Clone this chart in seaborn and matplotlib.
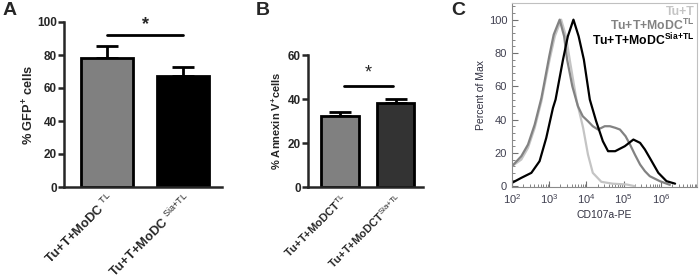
import matplotlib
matplotlib.use('Agg')
import matplotlib.pyplot as plt
from matplotlib.ticker import AutoMinorLocator, LogLocator, NullFormatter
import seaborn as sns
import pandas as pd

# ---- data ----
# A: % GFP+ cells
groups_a = ['Tu+T+MoDC $^{\\mathrm{TL}}$', 'Tu+T+MoDC $^{\\mathrm{Sia{+}TL}}$']
gfp_mean = [78, 67]
gfp_err = [7.5, 5.5]

# B: % Annexin V+ cells
groups_b = ['Tu+T+MoDCT$^{\\mathrm{TL}}$', 'Tu+T+MoDCT$^{\\mathrm{Sia{+}TL}}$']
annexin_mean = [32.3, 38.0]
annexin_err = [2.0, 1.8]

# C: CD107a-PE histograms (percent of max)
cd_tut = [100, 178, 269, 407, 617, 708, 1023, 1413, 2089, 2818, 3548, 5370, 8128, 10965, 14791, 25119, 50119, 120226, 199526]
pct_tut = [12, 16, 23, 35, 51, 58, 76, 90, 100, 90, 76, 52, 35, 19, 8, 2.6, 1.5, 1, 0]

cd_tl = [100, 178, 269, 407, 617, 708, 1000, 1318, 1905, 2512, 3020, 4169, 5888, 7943, 10965, 14791, 20417, 30903, 42658, 60256, 79433, 112202, 147911, 199526, 275423, 371535, 501187, 933254, 1737801]
pct_tl = [12, 18, 25, 37, 53, 60, 78, 91, 100, 90, 76, 60, 48, 42, 39, 36, 34, 36, 36, 35, 34, 30, 25, 19, 13, 9, 6, 3, 0.8]

cd_sia = [100, 178, 331, 550, 832, 1259, 1479, 2344, 3162, 4467, 6166, 8511, 12303, 18197, 27542, 38019, 58884, 107152, 181970, 275423, 371535, 501187, 851138, 1412538, 2398833]
pct_sia = [2, 5, 8, 15, 29, 47, 52, 76, 90, 100, 90, 76, 52, 39, 27, 21, 21, 24, 28, 26, 22, 17, 8, 3, 1.5]

hist_names = ['Tu+T', 'Tu+T+MoDC$^{\\mathbf{TL}}$', 'Tu+T+MoDC$^{\\mathbf{Sia{+}TL}}$']
hist_colors = ['#c4c4c4', '#828282', '#000000']

# ---- style ----
sns.set_style('ticks')
plt.rcParams['font.family'] = ['Liberation Sans', 'DejaVu Sans']
plt.rcParams['mathtext.fontset'] = 'custom'
plt.rcParams['mathtext.rm'] = 'Liberation Sans'
plt.rcParams['mathtext.bf'] = 'Liberation Sans:bold'
plt.rcParams['mathtext.it'] = 'Liberation Sans:italic'

fig = plt.figure(figsize=(7, 2.8), dpi=100)


def bar_panel(ax, groups, means, errs, colors, ymax, step, ylabel, xfs, yfs, lfs, lx):
    df = pd.DataFrame({'group': groups, 'value': means})
    sns.barplot(data=df, x='group', y='value', hue='group', palette=colors,
                edgecolor='black', linewidth=2, width=0.68, errorbar=None,
                legend=False, ax=ax, zorder=2)
    ax.errorbar([0, 1], means, yerr=[[0, 0], errs], fmt='none', ecolor='black',
                elinewidth=2, capsize=8, capthick=2, zorder=1)
    ax.set_ylim(0, ymax)
    ax.set_yticks(range(0, ymax + 1, step))
    sns.despine(ax=ax)
    for s in ['left', 'bottom']:
        ax.spines[s].set_linewidth(1.8)
    ax.tick_params(axis='y', width=1.8, length=4, labelsize=yfs, pad=1)
    ax.tick_params(axis='x', length=0, pad=3)
    for t in ax.get_yticklabels():
        t.set_fontweight('bold')
    ax.set_xticks([0, 1])
    ax.set_xticklabels(groups, rotation=45, ha='right', rotation_mode='anchor',
                       fontsize=xfs, fontweight='bold')
    ax.set_xlabel('')
    ax.set_ylabel(ylabel, fontsize=lfs, fontweight='bold')
    ax.yaxis.set_label_coords(lx, 0.5)


# A
axA = fig.add_axes([64 / 700, 1 - 187 / 280, 158 / 700, 165 / 280])
bar_panel(axA, groups_a, gfp_mean, gfp_err, ['#808080', '#000000'], 100, 20,
          '% GFP$^{\\mathbf{+}}$ cells', 9.3, 8.5, 9.2, -0.175)
axA.set_xlim(-0.566, 1.513)
axA.plot([0, 1], [92, 92], color='black', lw=2, clip_on=False)
axA.text(0.5, 93, '*', ha='center', va='bottom', fontsize=13, fontweight='bold')

# B
axB = fig.add_axes([308 / 700, 1 - 187 / 280, 115 / 700, 132 / 280])
bar_panel(axB, groups_b, annexin_mean, annexin_err, ['#808080', '#333333'], 60, 20,
          '% Annexin V$^{\\mathbf{+}}$cells', 8, 8.5, 8, -0.215)
axB.set_xlim(-0.577, 1.495)
axB.plot([0.07, 0.95], [45.9, 45.9], color='black', lw=2, clip_on=False)
axB.text(0.51, 48, '*', ha='center', va='bottom', fontsize=13)

# C
axC = fig.add_axes([512 / 700, 1 - 187 / 280, 185 / 700, 184 / 280])
hist = pd.concat([
    pd.DataFrame({'CD107a': cd_tut, 'pct': pct_tut, 'group': hist_names[0]}),
    pd.DataFrame({'CD107a': cd_tl, 'pct': pct_tl, 'group': hist_names[1]}),
    pd.DataFrame({'CD107a': cd_sia, 'pct': pct_sia, 'group': hist_names[2]}),
])
sns.lineplot(data=hist, x='CD107a', y='pct', hue='group', palette=hist_colors,
             estimator=None, sort=False, linewidth=1.6, legend=False, ax=axC)
axC.set_xscale('log')
axC.set_xlim(100, 9.3e6)
axC.set_ylim(-0.5, 110)
axC.set_yticks(range(0, 101, 20))
axC.yaxis.set_minor_locator(AutoMinorLocator(5))
axC.xaxis.set_major_locator(LogLocator(base=10, numticks=10))
axC.xaxis.set_minor_locator(LogLocator(base=10, subs=range(2, 10), numticks=100))
axC.xaxis.set_minor_formatter(NullFormatter())
axC.set_xticks([1e2, 1e3, 1e4, 1e5, 1e6])
axC.tick_params(which='both', direction='in', color='#707070', labelcolor='#404050', labelsize=8)
axC.tick_params(which='major', length=4, width=0.8)
axC.tick_params(which='minor', length=2, width=0.6)
for s in ['left', 'bottom']:
    axC.spines[s].set_color('#8a8a8a')
for s in ['top', 'right']:
    axC.spines[s].set_color('#c0c0c0')
axC.set_xlabel('CD107a-PE', fontsize=7.5, color='#303040', labelpad=3)
axC.set_ylabel('Percent of Max', fontsize=7.5, color='#303040', labelpad=2)
for i, (name, col) in enumerate(zip(hist_names, hist_colors)):
    axC.text(0.985, 0.935 - i * 0.082, name, transform=axC.transAxes, ha='right',
             va='baseline', fontsize=8.8, fontweight='bold', color=col)

# panel letters
fig.text(3 / 700, 1 - 2 / 280, 'A', fontsize=14, fontweight='bold', va='top')
fig.text(256 / 700, 1 - 2 / 280, 'B', fontsize=14, fontweight='bold', va='top')
fig.text(451 / 700, 1 - 2 / 280, 'C', fontsize=14, fontweight='bold', va='top')

fig.savefig('out.png', dpi=100)
